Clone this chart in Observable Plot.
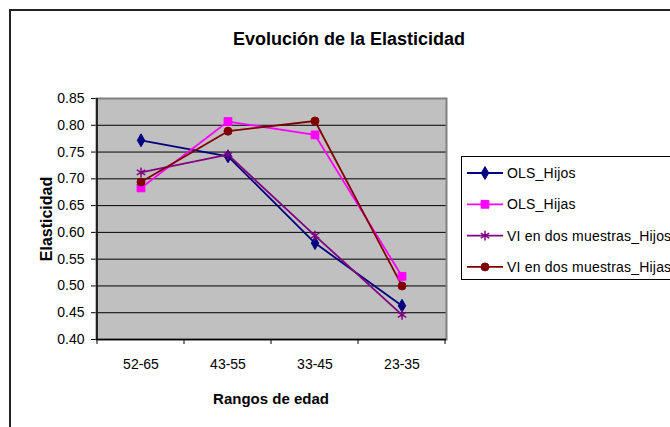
<!DOCTYPE html>
<html>
<head>
<meta charset="utf-8">
<script src="https://cdn.jsdelivr.net/npm/d3@7"></script>
<script src="https://cdn.jsdelivr.net/npm/@observablehq/plot@0.6"></script>
<style>
  html, body { margin: 0; padding: 0; background: #fff; }
  #wrap { position: relative; width: 670px; height: 427px; overflow: hidden; font-family: "Liberation Sans", Arial, sans-serif; }
  #wrap > svg { position: absolute; left: 0; top: 0; }
  #border { position: absolute; left: 9px; top: 9px; width: 700px; height: 500px; border-left: 2px solid #222; border-top: 2px solid #222; pointer-events: none; }
  #overlay { position: absolute; left: 0; top: 0; pointer-events: none; }
  #legend { position: absolute; left: 461px; top: 156px; width: 260px; height: 124px; border: 1px solid #000; background: #fff; box-sizing: border-box; }
</style>
</head>
<body>
<div id="wrap"></div>
<script>
// ---- data ----
const categories = ["52-65", "43-55", "33-45", "23-35"];
const seriesNames = ["OLS_Hijos", "OLS_Hijas", "VI en dos muestras_Hijos", "VI en dos muestras_Hijas"];
const olsHijos = [0.772, 0.742, 0.580, 0.463];
const olsHijas = [0.683, 0.807, 0.782, 0.518];
const viHijos  = [0.712, 0.745, 0.594, 0.446];
const viHijas  = [0.694, 0.789, 0.808, 0.500];
const yTicks = [0.40, 0.45, 0.50, 0.55, 0.60, 0.65, 0.70, 0.75, 0.80, 0.85];
const titleText = "Evolución de la Elasticidad";
const xTitle = "Rangos de edad";
const yTitle = "Elasticidad";

// ---- styles ----
const seriesValues = [olsHijos, olsHijas, viHijos, viHijas];
const colors = ["#000080", "#FF00FF", "#800080", "#800000"];
const symbols = ["diamond", "square", "asterisk", "circle"];
const radii = [3.9, 4.4, 4.6, 4.0];

const rows = [];
seriesNames.forEach((s, si) => categories.forEach((c, ci) => rows.push({series: s, cat: c, value: seriesValues[si][ci]})));

const W = 670, H = 427;
const marks = [
  Plot.frame({fill: "#C0C0C0", stroke: null}),
  Plot.ruleY(yTicks.slice(1, -1), {stroke: "#000", strokeWidth: 1}),
  Plot.frame({stroke: "#808080", strokeWidth: 2}),
  Plot.ruleY([yTicks[0]], {stroke: "#000", strokeWidth: 1.5}),
  // left axis line and boundary tick marks on the category axis
  (index, scales) => {
    const x = scales.x, y = scales.y;
    const y0 = y(yTicks[0]), y1 = y(yTicks[yTicks.length - 1]);
    const edges = categories.map(c => x(c)).concat([x(categories[categories.length - 1]) + x.bandwidth()]);
    const g = d3.create("svg:g").attr("stroke", "#000");
    g.append("line").attr("x1", edges[0]).attr("x2", edges[0]).attr("y1", y0).attr("y2", y1).attr("stroke-width", 1.5);
    g.selectAll("line.t").data(edges).join("line").attr("class", "t").attr("stroke-width", 1)
      .attr("x1", d => d).attr("x2", d => d).attr("y1", y0).attr("y2", y0 + 5);
    return g.node();
  }
];
seriesNames.forEach((s, si) => {
  const d = rows.filter(r => r.series === s);
  marks.push(Plot.line(d, {x: "cat", y: "value", stroke: colors[si], strokeWidth: 1.8}));
});
seriesNames.forEach((s, si) => {
  const d = rows.filter(r => r.series === s);
  const star = symbols[si] === "asterisk";
  marks.push(Plot.dot(d, {x: "cat", y: "value", symbol: () => symbols[si], r: radii[si],
    fill: star ? "none" : colors[si], stroke: colors[si], strokeWidth: star ? 1.5 : 1}));
});

const chart = Plot.plot({
  width: W, height: H,
  marginLeft: 96, marginRight: 224, marginTop: 98, marginBottom: 88,
  style: {fontFamily: "'Liberation Sans', Arial, sans-serif", fontSize: "14px", background: "transparent", color: "#000", overflow: "visible"},
  x: {type: "band", domain: categories, padding: 0, tickSize: 0, tickPadding: 20, label: null},
  y: {domain: [yTicks[0], yTicks[yTicks.length - 1]], ticks: yTicks, tickFormat: d3.format(".2f"), tickSize: 5, tickPadding: 7, label: null},
  symbol: {type: "identity"},
  marks
});
const wrap = document.getElementById("wrap");
wrap.appendChild(chart);

// ---- overlay texts ----
const ov = d3.select(wrap).append("svg").attr("id", "overlay").attr("width", W).attr("height", H)
  .style("font-family", "'Liberation Sans', Arial, sans-serif");
ov.append("text").attr("x", 349).attr("y", 45).attr("text-anchor", "middle")
  .attr("font-weight", "bold").attr("font-size", 18).text(titleText);
ov.append("text").attr("x", 271).attr("y", 404).attr("text-anchor", "middle")
  .attr("font-weight", "bold").attr("font-size", 15).text(xTitle);
ov.append("text").attr("transform", "translate(52,219) rotate(-90)").attr("text-anchor", "middle")
  .attr("font-weight", "bold").attr("font-size", 16).text(yTitle);

// ---- legend ----
const lg = d3.select(wrap).append("div").attr("id", "legend");
const lsvg = lg.append("svg").attr("width", 260).attr("height", 124)
  .style("font-family", "'Liberation Sans', Arial, sans-serif");
const symMap = {diamond: d3.symbolDiamond, square: d3.symbolSquare, asterisk: d3.symbolAsterisk, circle: d3.symbolCircle};
seriesNames.forEach((s, si) => {
  const cy = 16 + si * 31.3;
  const star = symbols[si] === "asterisk";
  const g = lsvg.append("g");
  g.append("line").attr("x1", 5).attr("x2", 41).attr("y1", cy).attr("y2", cy).attr("stroke", colors[si]).attr("stroke-width", 1.8);
  g.append("path").attr("transform", `translate(23,${cy})`)
    .attr("d", d3.symbol(symMap[symbols[si]], radii[si] * radii[si] * Math.PI)())
    .attr("fill", star ? "none" : colors[si]).attr("stroke", colors[si]).attr("stroke-width", star ? 1.5 : 1);
  g.append("text").attr("x", 45).attr("y", cy + 5).attr("font-size", 14).attr("letter-spacing", 0.2).text(s);
});

d3.select(wrap).append("div").attr("id", "border");
</script>
</body>
</html>
